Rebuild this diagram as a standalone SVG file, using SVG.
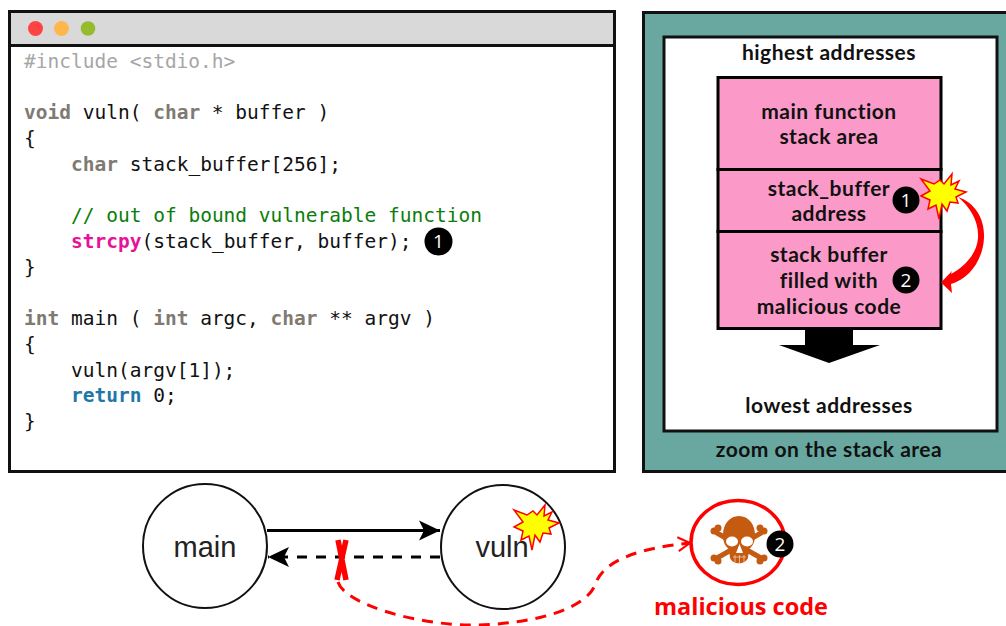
<svg xmlns="http://www.w3.org/2000/svg" width="1006" height="626" viewBox="0 0 1006 626">
<style>
.code{font-family:"DejaVu Sans Mono","Liberation Mono",monospace;font-size:19.5px;fill:#111}
.kw{font-weight:700;fill:#7f7a72}
.inc{fill:#a6a6a6}
.cm{fill:#0a7d0a}
.fn{font-weight:700;fill:#e6139a}
.ret{font-weight:700;fill:#1f77a8}
.lab{font-family:Lato,"Open Sans",sans-serif;font-weight:700;font-size:21px;letter-spacing:.5px;fill:#111;text-anchor:middle}
.badge{fill:#000}
.bt{font-family:"Open Sans",sans-serif;font-size:19px;fill:#fff;text-anchor:middle}
.nd{fill:#fff;stroke:#111;stroke-width:2}
.ndt{font-family:"Liberation Sans",sans-serif;font-size:29px;fill:#222;text-anchor:middle}
.star{fill:#ffff00;stroke:#ff0000;stroke-width:1.5}
</style>
<defs>
<polygon id="burst" points="-22,-16 -9,-11 -3,-15 1,-11 9,-21 8,-10 16,-14 12,-6 23,-3 13,2 15,8 7,7 4,16 -1,9 -4,24 -7,10 -15,14 -13,5 -22,1 -13,-4"/>
<marker id="ah" markerUnits="userSpaceOnUse" markerWidth="24" markerHeight="24" refX="21" refY="12" orient="auto"><path d="M0,2 L21,12 L0,22 L5,12 Z" fill="#000"/></marker>
<marker id="rh" markerUnits="userSpaceOnUse" markerWidth="18" markerHeight="18" refX="14" refY="9" orient="auto"><path d="M2,2 L14,9 L2,16" fill="none" stroke="#f00" stroke-width="2"/></marker>
</defs>

<g id="code-window">
<rect x="9.500" y="11.500" width="605" height="460" fill="#fff" stroke="#111" stroke-width="3"/>
<rect x="11" y="13" width="602" height="31" fill="#d9d9d9"/>
<line x1="11" y1="45.500" x2="613" y2="45.500" stroke="#111" stroke-width="3"/>
<circle cx="35.500" cy="28.500" r="7.500" fill="#ff4343"/>
<circle cx="61.500" cy="28.500" r="7.500" fill="#ffb74d"/>
<circle cx="88" cy="28.500" r="7.300" fill="#97bb2f"/>
<text class="code" xml:space="preserve" x="24" y="67.500"><tspan class="inc">#include &lt;stdio.h&gt;</tspan></text>
<text class="code" xml:space="preserve" x="24" y="118.500"><tspan class="kw">void</tspan> vuln( <tspan class="kw">char</tspan> * buffer )</text>
<text class="code" xml:space="preserve" x="24" y="144.500">{</text>
<text class="code" xml:space="preserve" x="71" y="170.500"><tspan class="kw">char</tspan> stack_buffer[256];</text>
<text class="code cm" xml:space="preserve" x="71" y="221.500">// out of bound vulnerable function</text>
<text class="code" xml:space="preserve" x="71" y="247.500"><tspan class="fn">strcpy</tspan>(stack_buffer, buffer);</text>
<text class="code" xml:space="preserve" x="24" y="273.500">}</text>
<text class="code" xml:space="preserve" x="24" y="324.500"><tspan class="kw">int</tspan> main ( <tspan class="kw">int</tspan> argc, <tspan class="kw">char</tspan> ** argv )</text>
<text class="code" xml:space="preserve" x="24" y="350.500">{</text>
<text class="code" xml:space="preserve" x="71" y="376.500">vuln(argv[1]);</text>
<text class="code" xml:space="preserve" x="71" y="401.500"><tspan class="ret">return</tspan> 0;</text>
<text class="code" xml:space="preserve" x="24" y="427.500">}</text>
<circle class="badge" cx="438.500" cy="241.500" r="14"/>
<text class="bt" x="438.500" y="248">1</text>
</g>

<g id="stack-panel">
<rect x="643.500" y="12.500" width="365" height="459" fill="#68a8a0" stroke="#111" stroke-width="3"/>
<rect x="664" y="37" width="333" height="394" fill="#fff" stroke="#111" stroke-width="3"/>
<text class="lab" x="829" y="59.500">highest addresses</text>
<text class="lab" x="829" y="413">lowest addresses</text>
<text class="lab" x="829" y="456.500">zoom on the stack area</text>
</g>

<g id="stack-main">
<rect x="718" y="77.500" width="223" height="92" fill="#fb9ac8" stroke="#000" stroke-width="3"/>
<text class="lab" x="829" y="119">main function</text>
<text class="lab" x="829" y="144">stack area</text>
</g>
<g id="stack-address">
<rect x="718" y="169.500" width="223" height="62" fill="#fb9ac8" stroke="#000" stroke-width="3"/>
<text class="lab" x="829" y="196">stack_buffer</text>
<text class="lab" x="829" y="221">address</text>
<circle class="badge" cx="906" cy="200" r="13.500"/>
<text class="bt" x="906" y="207">1</text>
</g>
<g id="stack-filled">
<rect x="718" y="231.500" width="223" height="97" fill="#fb9ac8" stroke="#000" stroke-width="3"/>
<text class="lab" x="829" y="262">stack buffer</text>
<text class="lab" x="829" y="288">filled with</text>
<text class="lab" x="829" y="314">malicious code</text>
<circle class="badge" cx="906" cy="280" r="13.500"/>
<text class="bt" x="906" y="287">2</text>
</g>
<polygon id="grow-arrow" points="805,329 853,329 853,345 880,345 829,363 779,345 805,345" fill="#000"/>
<path id="overflow-arrow" d="M958,197 C976,203 985,220 984,238 C983,260 969,279 951,284 L952,293 L941,282.500 L952,271 L951,274 C964,267 977,254 978,238 C979,222 971,208 958,197 Z" fill="#f00"/>
<use href="#burst" class="star" x="943" y="195"/>

<g id="main">
<circle class="nd" cx="205" cy="546" r="62"/>
<text class="ndt" x="205" y="557">main</text>
</g>
<g id="vuln">
<circle class="nd" cx="503" cy="547" r="62"/>
<text class="ndt" x="502" y="557">vuln</text>
<use href="#burst" class="star" x="536" y="526"/>
</g>
<g id="malicious">
<ellipse cx="738" cy="542.500" rx="47" ry="42" fill="#fff" stroke="#f00" stroke-width="3.500"/>
<g id="skull" fill="#c55a11">
<g stroke="#c55a11" stroke-width="5" stroke-linecap="round">
<line x1="717" y1="533" x2="761" y2="558"/>
<line x1="761" y1="533" x2="717" y2="558"/>
</g>
<circle cx="714" cy="531" r="3.500"/><circle cx="718" cy="528" r="3.500"/>
<circle cx="764" cy="531" r="3.500"/><circle cx="760" cy="528" r="3.500"/>
<circle cx="714" cy="558" r="3.500"/><circle cx="718" cy="561" r="3.500"/>
<circle cx="764" cy="558" r="3.500"/><circle cx="760" cy="561" r="3.500"/>
<path d="M739,516 C749,516 755,525 755,535 C755,543 752,547 749,549 L748,558 C745,565 733,565 730,558 L729,549 C726,547 723,543 723,535 C723,525 729,516 739,516 Z"/>
<ellipse cx="732" cy="541.500" rx="6" ry="5" fill="#fff"/>
<ellipse cx="747" cy="541.500" rx="6" ry="5" fill="#fff"/>
<path d="M739.500,544 L743,553 L736,553 Z" fill="#fff"/>
<path d="M733,557 H746 M735,555 V562 M739.500,555 V563 M744,555 V562" stroke="#f3c9a8" stroke-width=".8" fill="none"/>
</g>
<circle class="badge" cx="780" cy="544" r="13.500"/>
<text class="bt" x="780" y="551">2</text>
<text x="741" y="615" font-family="'Open Sans',sans-serif" font-weight="700" font-size="23" fill="#f00" text-anchor="middle" textLength="174" lengthAdjust="spacingAndGlyphs">malicious code</text>
</g>

<g id="connectors" fill="none">
<line x1="267" y1="530.500" x2="440" y2="530.500" stroke="#000" stroke-width="3" marker-end="url(#ah)"/>
<line x1="440" y1="557" x2="268" y2="557" stroke="#000" stroke-width="3" stroke-dasharray="10 9" marker-end="url(#ah)"/>
<path d="M338,582 C345,605 420,625 470,625 C530,625 585,610 595,585 C603,560 640,548 690,543" stroke="#f00" stroke-width="3" stroke-dasharray="11 8" marker-end="url(#rh)"/>
<path d="M338,540 L346,580 M346,540 L337,580" stroke="#f00" stroke-width="5.500"/>
</g>
</svg>
